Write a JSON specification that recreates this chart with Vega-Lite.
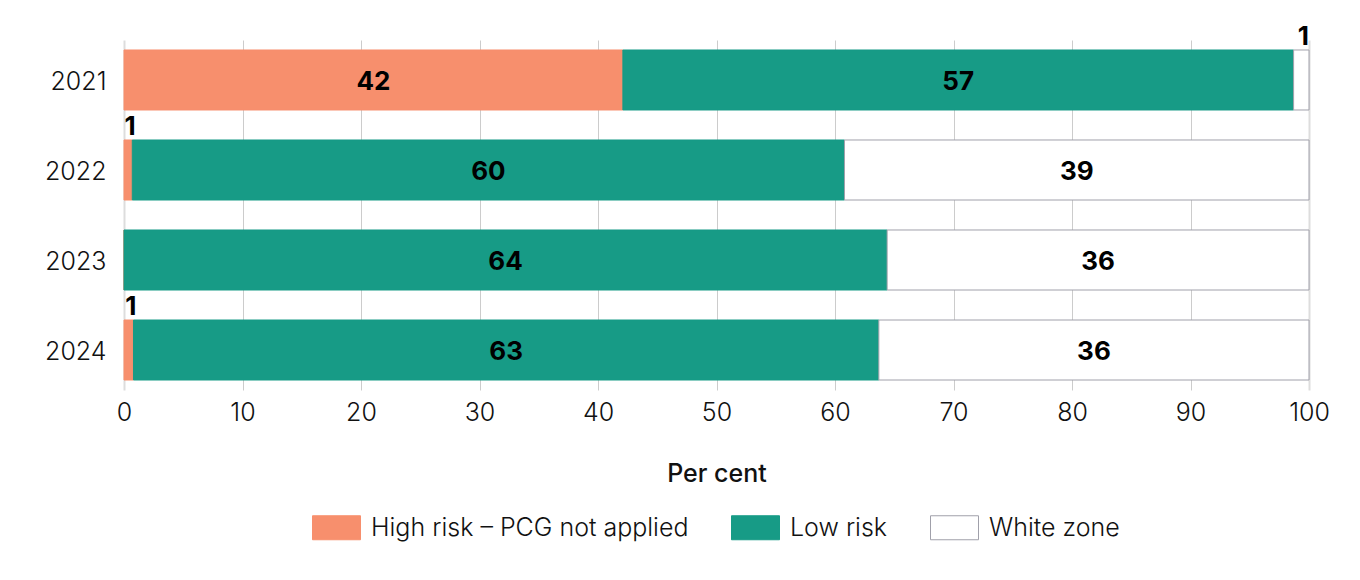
{
  "$schema": "https://vega.github.io/schema/vega-lite/v6.json",
  "width": 1185,
  "height": 350,
  "autosize": {"type": "none"},
  "padding": {"left": 124, "top": 40, "right": 51, "bottom": 190},
  "config": {"font": "Inter", "view": {"stroke": null}},
  "data": {
    "values": [
      {"year": "2021", "risk": "High risk – PCG not applied", "value": 42.1},
      {"year": "2021", "risk": "Low risk", "value": 56.6},
      {"year": "2021", "risk": "White zone", "value": 1.3},
      {"year": "2022", "risk": "High risk – PCG not applied", "value": 0.7},
      {"year": "2022", "risk": "Low risk", "value": 60.1},
      {"year": "2022", "risk": "White zone", "value": 39.2},
      {"year": "2023", "risk": "High risk – PCG not applied", "value": 0},
      {"year": "2023", "risk": "Low risk", "value": 64.4},
      {"year": "2023", "risk": "White zone", "value": 35.6},
      {"year": "2024", "risk": "High risk – PCG not applied", "value": 0.8},
      {"year": "2024", "risk": "Low risk", "value": 62.9},
      {"year": "2024", "risk": "White zone", "value": 36.3}
    ]
  },
  "transform": [
    {"stack": "value", "groupby": ["year"], "sort": [{"field": "risk", "order": "ascending"}], "as": ["x0", "x1"]},
    {"calculate": "(datum.x0 + datum.x1) / 2", "as": "mid"}
  ],
  "encoding": {
    "y": {
      "field": "year",
      "type": "ordinal",
      "scale": {"paddingInner": 0.3333, "paddingOuter": 0.111},
      "axis": {"title": null, "labelFontSize": 25, "labelPadding": 18, "labelOffset": 2, "ticks": false, "domain": false, "labelColor": "#111111", "labelFontWeight": 300}
    }
  },
  "layer": [
    {
      "mark": {"type": "bar", "strokeWidth": 1},
      "encoding": {
        "x": {
          "field": "x0",
          "type": "quantitative",
          "scale": {"domain": [0, 100]},
          "axis": {
            "title": "Per cent",
            "titleFontSize": 25,
            "titleFontWeight": 500,
            "titleColor": "#111111",
            "titlePadding": 36,
            "labelFontSize": 25,
            "labelFontWeight": 300,
            "labelColor": "#111111",
            "labelPadding": 10,
            "labelFlush": false,
            "ticks": false,
            "domain": false,
            "values": [0, 10, 20, 30, 40, 50, 60, 70, 80, 90, 100],
            "gridColor": {"condition": {"test": "datum.value == 0 || datum.value == 100", "value": "#dddddd"}, "value": "#cccccc"},
            "gridWidth": {"condition": {"test": "datum.value == 0 || datum.value == 100", "value": 2}, "value": 1}
          }
        },
        "x2": {"field": "x1"},
        "color": {
          "field": "risk",
          "type": "nominal",
          "scale": {"domain": ["High risk – PCG not applied", "Low risk", "White zone"], "range": ["#F78F6D", "#179B86", "#FFFFFF"]},
          "legend": {
            "title": null,
            "orient": "none",
            "legendX": 188,
            "legendY": 463,
            "direction": "horizontal",
            "symbolType": "M-1,-0.5H1V0.5H-1Z",
            "symbolSize": 2304,
            "symbolStrokeWidth": 1,
            "labelFontSize": 25,
            "labelFontWeight": 300,
            "labelColor": "#111111",
            "labelLimit": 600,
            "labelOffset": 10,
            "columnPadding": 40
          }
        },
        "stroke": {
          "field": "risk",
          "type": "nominal",
          "scale": {"domain": ["High risk – PCG not applied", "Low risk", "White zone"], "range": ["#F78F6D", "#179B86", "#A0A0AA"]},
          "legend": {
            "title": null,
            "orient": "none",
            "legendX": 188,
            "legendY": 463,
            "direction": "horizontal",
            "symbolType": "M-1,-0.5H1V0.5H-1Z",
            "symbolSize": 2304,
            "symbolStrokeWidth": 1,
            "labelFontSize": 25,
            "labelFontWeight": 300,
            "labelColor": "#111111",
            "labelLimit": 600,
            "labelOffset": 10,
            "columnPadding": 40
          }
        }
      }
    },
    {
      "transform": [{"filter": "datum.value >= 5"}],
      "mark": {"type": "text", "fontSize": 26, "fontWeight": "bold", "baseline": "middle", "align": "center", "color": "#000000", "dy": 2},
      "encoding": {
        "x": {"field": "mid", "type": "quantitative"},
        "text": {"field": "value", "type": "quantitative", "format": ".0f"}
      }
    },
    {
      "transform": [{"filter": "datum.value > 0 && datum.value < 5"}],
      "mark": {"type": "text", "fontSize": 26, "fontWeight": "bold", "baseline": "middle", "align": "center", "color": "#000000", "dy": -43, "dx": 2},
      "encoding": {
        "x": {"field": "mid", "type": "quantitative"},
        "text": {"field": "value", "type": "quantitative", "format": ".0f"}
      }
    }
  ]
}
